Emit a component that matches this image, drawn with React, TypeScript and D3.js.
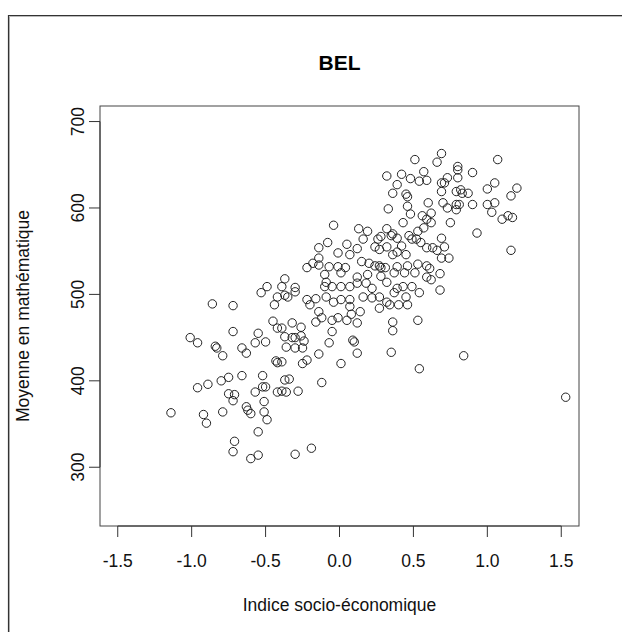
import * as d3 from 'd3'

// Indice socio-économique (x) et moyenne en mathématique (y)
const indiceSocio = [
  -1.14, -1.01, -0.96, -0.96, -0.92, -0.90, -0.89, -0.86, -0.84, -0.83, -0.80, -0.79, -0.79, -0.75, -0.75,
  -0.72, -0.72, -0.72, -0.72, -0.71, -0.71, -0.66, -0.66, -0.63, -0.63, -0.62, -0.60, -0.60, -0.57, -0.57,
  -0.55, -0.55, -0.55, -0.53, -0.52, -0.52, -0.51, -0.51, -0.50, -0.50, -0.49, -0.49, -0.45, -0.44, -0.43,
  -0.42, -0.42, -0.42, -0.42,
  -0.04, -0.08, -0.14, -0.01, -0.14, -0.18, -0.22, -0.14, -0.07, -0.01, 0.01, -0.10, -0.09, -0.10, -0.37,
  -0.30, -0.39, -0.37, -0.05, 0.01, -0.22, -0.16, -0.09, 0.01, -0.04, -0.35, -0.30, -0.20, -0.14, -0.16,
  -0.12, -0.05, -0.01, -0.32, -0.26, -0.39, -0.37, -0.32, -0.30, -0.26, -0.36, -0.30, -0.25, -0.24, -0.05,
  -0.07, -0.14, -0.22, -0.25, -0.39, 0.01, -0.37, -0.34, -0.39, -0.36, -0.28, -0.12, -0.30, -0.19,
  0.51, 0.57, 0.32, 0.42, 0.48, 0.54, 0.59, 0.39, 0.36, 0.45, 0.46, 0.46, 0.60, 0.33, 0.48,
  0.56, 0.59, 0.13, 0.19, 0.43, 0.57, 0.32, 0.36, 0.53, 0.16, 0.26, 0.28, 0.35, 0.39, 0.47,
  0.49, 0.52, 0.05, 0.12, 0.07, 0.24, 0.27, 0.32, 0.36, 0.39, 0.42, 0.45, 0.55, 0.59, 0.04,
  0.15, 0.20, 0.24, 0.27, 0.28, 0.31, 0.39, 0.46, 0.53, 0.59, 0.12, 0.19, 0.28, 0.37, 0.44,
  0.51, 0.59, 0.07, 0.12, 0.18, 0.22, 0.32, 0.39, 0.43, 0.49, 0.07, 0.16, 0.22, 0.27, 0.37,
  0.45, 0.54, 0.32, 0.05, 0.08, 0.14, 0.12, 0.07, 0.27, 0.34, 0.40, 0.46, 0.36, 0.36, 0.53,
  0.09, 0.10, 0.12, 0.35, 0.54,
  0.69, 0.66, 0.80, 0.80, 0.90, 1.07, 0.69, 0.71, 0.73, 0.80, 0.69, 0.79, 0.82, 0.83, 0.87,
  1.00, 1.05, 1.20, 1.16, 0.70, 0.73, 0.79, 0.81, 0.79, 0.90, 1.00, 1.05, 1.03, 1.10, 1.14,
  1.17, 0.62, 0.62, 0.75, 0.93, 0.69, 0.63, 0.66, 0.71, 0.69, 0.74, 1.16, 0.61, 0.68, 0.62,
  0.68, 0.84, 1.53,
]

const moyenneMath = [
  363, 450, 444, 392, 361, 351, 396, 489, 440, 438, 400, 429, 364, 404, 385,
  487, 377, 318, 457, 384, 330, 438, 406, 432, 370, 366, 362, 310, 444, 387,
  455, 341, 314, 502, 406, 393, 376, 364, 445, 393, 355, 509, 469, 488, 423,
  421, 387, 497, 461,
  580, 560, 554, 548, 542, 536, 531, 534, 532, 532, 525, 523, 514, 509, 518,
  508, 509, 499, 509, 509, 494, 495, 497, 494, 491, 497, 503, 488, 480, 468,
  473, 470, 473, 467, 462, 461, 451, 450, 450, 452, 439, 438, 438, 446, 457,
  444, 431, 424, 420, 422, 420, 401, 402, 388, 387, 388, 398, 315, 322,
  656, 642, 637, 639, 634, 631, 632, 627, 617, 616, 613, 602, 606, 599, 593,
  591, 587, 576, 573, 583, 577, 576, 570, 573, 564, 564, 567, 568, 565, 568,
  564, 564, 558, 553, 546, 555, 552, 555, 546, 549, 556, 546, 560, 554, 531,
  538, 536, 533, 533, 531, 531, 532, 533, 535, 533, 520, 523, 521, 525, 525,
  525, 520, 509, 513, 513, 507, 514, 507, 509, 509, 494, 497, 496, 497, 502,
  497, 502, 491, 470, 477, 480, 467, 486, 484, 488, 488, 488, 468, 458, 470,
  447, 445, 432, 433, 414,
  663, 653, 648, 644, 641, 656, 629, 629, 635, 635, 619, 619, 621, 617, 617,
  622, 629, 623, 614, 606, 600, 604, 604, 598, 604, 604, 606, 595, 587, 591,
  589, 594, 583, 583, 571, 565, 554, 551, 555, 542, 542, 551, 530, 524, 517,
  505, 429, 381,
]

const xTicks = [-1.5, -1.0, -0.5, 0.0, 0.5, 1.0, 1.5]
const yTicks = [300, 400, 500, 600, 700]

const W = 622
const H = 632
const font = '"Liberation Sans", Arial, Helvetica, sans-serif'
const fs = 17.5

export default function App() {
  const left = 100, right = 579, top = 106, bottom = 526

  // xlim c(-1.5, 1.5), ylim c(250, 700), avec l'extension de 4 % de R
  const x = d3.scaleLinear().domain([-1.62, 1.62]).range([left, right])
  const y = d3.scaleLinear().domain([232, 718]).range([bottom, top])
  const fmt = (t: number) => t.toFixed(1) // trait d'union, comme R

  const points = indiceSocio.map((v, i) => [v, moyenneMath[i]])

  return (
    <svg
      width={W}
      height={H}
      style={{ position: 'fixed', left: 0, top: 0, display: 'block', background: '#fff' }}
    >
      {/* cadre de la fenêtre */}
      <path d={`M9.5,${H} V16.5 H${W}`} fill="none" stroke="#bbb" strokeWidth={1} />
      <path d={`M8.5,${H} V15.5 H${W}`} fill="none" stroke="#333" strokeWidth={1.2} />

      <text x={(left + right) / 2} y={62} textAnchor="middle" dominantBaseline="central"
        fontFamily={font} fontSize={21} fontWeight="bold" fill="#000">BEL</text>

      <rect x={left} y={top} width={right - left} height={bottom - top}
        fill="none" stroke="#444" strokeWidth={1} />

      {/* axe x */}
      <line x1={x(xTicks[0])} x2={x(xTicks[xTicks.length - 1])} y1={bottom} y2={bottom} stroke="#333" />
      {xTicks.map(t => (
        <g key={t}>
          <line x1={x(t)} x2={x(t)} y1={bottom} y2={bottom + 11} stroke="#333" />
          <text x={x(t)} y={561} textAnchor="middle" dominantBaseline="central"
            fontFamily={font} fontSize={fs} fill="#111">{fmt(t)}</text>
        </g>
      ))}
      <text x={(left + right) / 2} y={605} textAnchor="middle" dominantBaseline="central"
        fontFamily={font} fontSize={fs} fill="#111">Indice socio-économique</text>

      {/* axe y */}
      <line x1={left} x2={left} y1={y(yTicks[0])} y2={y(yTicks[yTicks.length - 1])} stroke="#333" />
      {yTicks.map(t => (
        <g key={t}>
          <line x1={left - 11} x2={left} y1={y(t)} y2={y(t)} stroke="#333" />
          <text transform={`translate(78,${y(t)}) rotate(-90)`} textAnchor="middle"
            dominantBaseline="central" fontFamily={font} fontSize={fs} fill="#111">{t}</text>
        </g>
      ))}
      <text transform={`translate(23,${(top + bottom) / 2}) rotate(-90)`} textAnchor="middle"
        dominantBaseline="central" fontFamily={font} fontSize={fs} fill="#111">Moyenne en mathématique</text>

      {/* points */}
      {points.map(([a, b], i) => (
        <circle key={i} cx={x(a)} cy={y(b)} r={4.2} fill="none" stroke="#222" strokeWidth={1} />
      ))}
    </svg>
  )
}
